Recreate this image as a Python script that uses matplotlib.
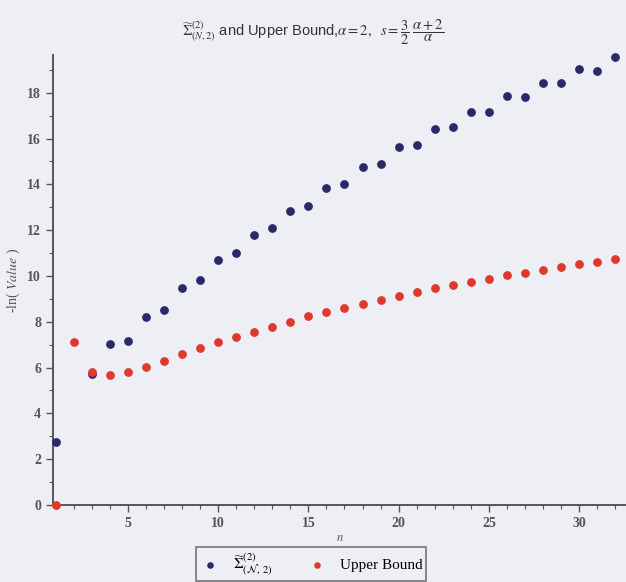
import numpy as np
import matplotlib
matplotlib.use("Agg")
import matplotlib.pyplot as plt
from matplotlib.ticker import MultipleLocator

# n values
n = np.arange(1, 33)

# -ln(Value) of Sigma~(2)_(N,2)  (n=2 has no point)
sigma_vals = [2.77, np.nan, 5.70, 7.01, 7.15, 8.22, 8.51, 9.49, 9.81, 10.71,
              10.99, 11.80, 12.08, 12.85, 13.07, 13.83, 14.02, 14.77, 14.90, 15.65,
              15.72, 16.40, 16.49, 17.17, 17.17, 17.86, 17.82, 18.44, 18.41, 19.03,
              18.94, 19.56]

# -ln(Value) of upper bound
bound_vals = [0.0, 7.10, 5.82, 5.68, 5.81, 6.04, 6.30, 6.58, 6.86, 7.12,
              7.34, 7.55, 7.79, 8.00, 8.24, 8.41, 8.59, 8.78, 8.95, 9.13,
              9.29, 9.46, 9.59, 9.72, 9.86, 10.03, 10.14, 10.26, 10.39, 10.51,
              10.61, 10.74]

bg = '#eeeef5'
plt.rcParams['mathtext.fontset'] = 'stix'

fig = plt.figure(figsize=(6.26, 5.82), dpi=100, facecolor=bg)
ax = fig.add_axes([53 / 626, 1 - 505 / 582, 573 / 626, 450 / 582])
ax.set_facecolor(bg)

ax.scatter(n, sigma_vals, s=28, color='#2b2a66', zorder=3, clip_on=False,
           label=r'$\widetilde{\Sigma}^{(2)}_{(\mathcal{N},\,2)}$')
ax.scatter(n, bound_vals, s=28, color='#e0392c', zorder=3, clip_on=False,
           label='Upper Bound')

ax.set_xlim(0.85, 32.6)
ax.set_ylim(0, 19.65)
for s in ['top', 'right']:
    ax.spines[s].set_visible(False)
for s in ['left', 'bottom']:
    ax.spines[s].set_color('#555555')
    ax.spines[s].set_linewidth(1.4)

ax.xaxis.set_major_locator(MultipleLocator(5))
ax.xaxis.set_minor_locator(MultipleLocator(1))
ax.yaxis.set_major_locator(MultipleLocator(2))
ax.yaxis.set_minor_locator(MultipleLocator(1))
ax.tick_params(which='both', color='#555555', direction='out')
ax.tick_params(which='major', length=5, width=1.0)
ax.tick_params(which='minor', length=3, width=0.8)
for lab in ax.get_xticklabels() + ax.get_yticklabels():
    lab.set_fontfamily('Liberation Serif')
    lab.set_fontweight('bold')
    lab.set_fontsize(10)
    lab.set_color('#555555')

ax.set_xlabel(r'$n$', fontsize=9, color='#555555', labelpad=1)
ax.set_ylabel(r'-ln( $\mathit{Value}$ )', fontsize=10, color='#555555',
              family='Liberation Serif', labelpad=4)

fig.text(0.5, 0.945,
         r'$\widetilde{\Sigma}^{(2)}_{(N,2)}$ and Upper Bound,$\alpha = 2,\ \ s = \dfrac{3}{2}\ \dfrac{\alpha + 2}{\alpha}$',
         ha='center', va='center', fontsize=10.5, color='#333333',
         family='Liberation Sans')

leg = fig.legend(loc='center', bbox_to_anchor=(311 / 626, 1 - 564 / 582),
                 ncol=2, frameon=True, fancybox=False, markerscale=0.7,
                 prop={'family': 'Liberation Serif', 'size': 11},
                 handletextpad=0.8, columnspacing=2.2, borderpad=0.25,
                 handlelength=1.4)
leg.get_frame().set_edgecolor('#555555')
leg.get_frame().set_facecolor(bg)
leg.get_frame().set_linewidth(1.2)

fig.savefig('out.png', dpi=100, facecolor=bg)
